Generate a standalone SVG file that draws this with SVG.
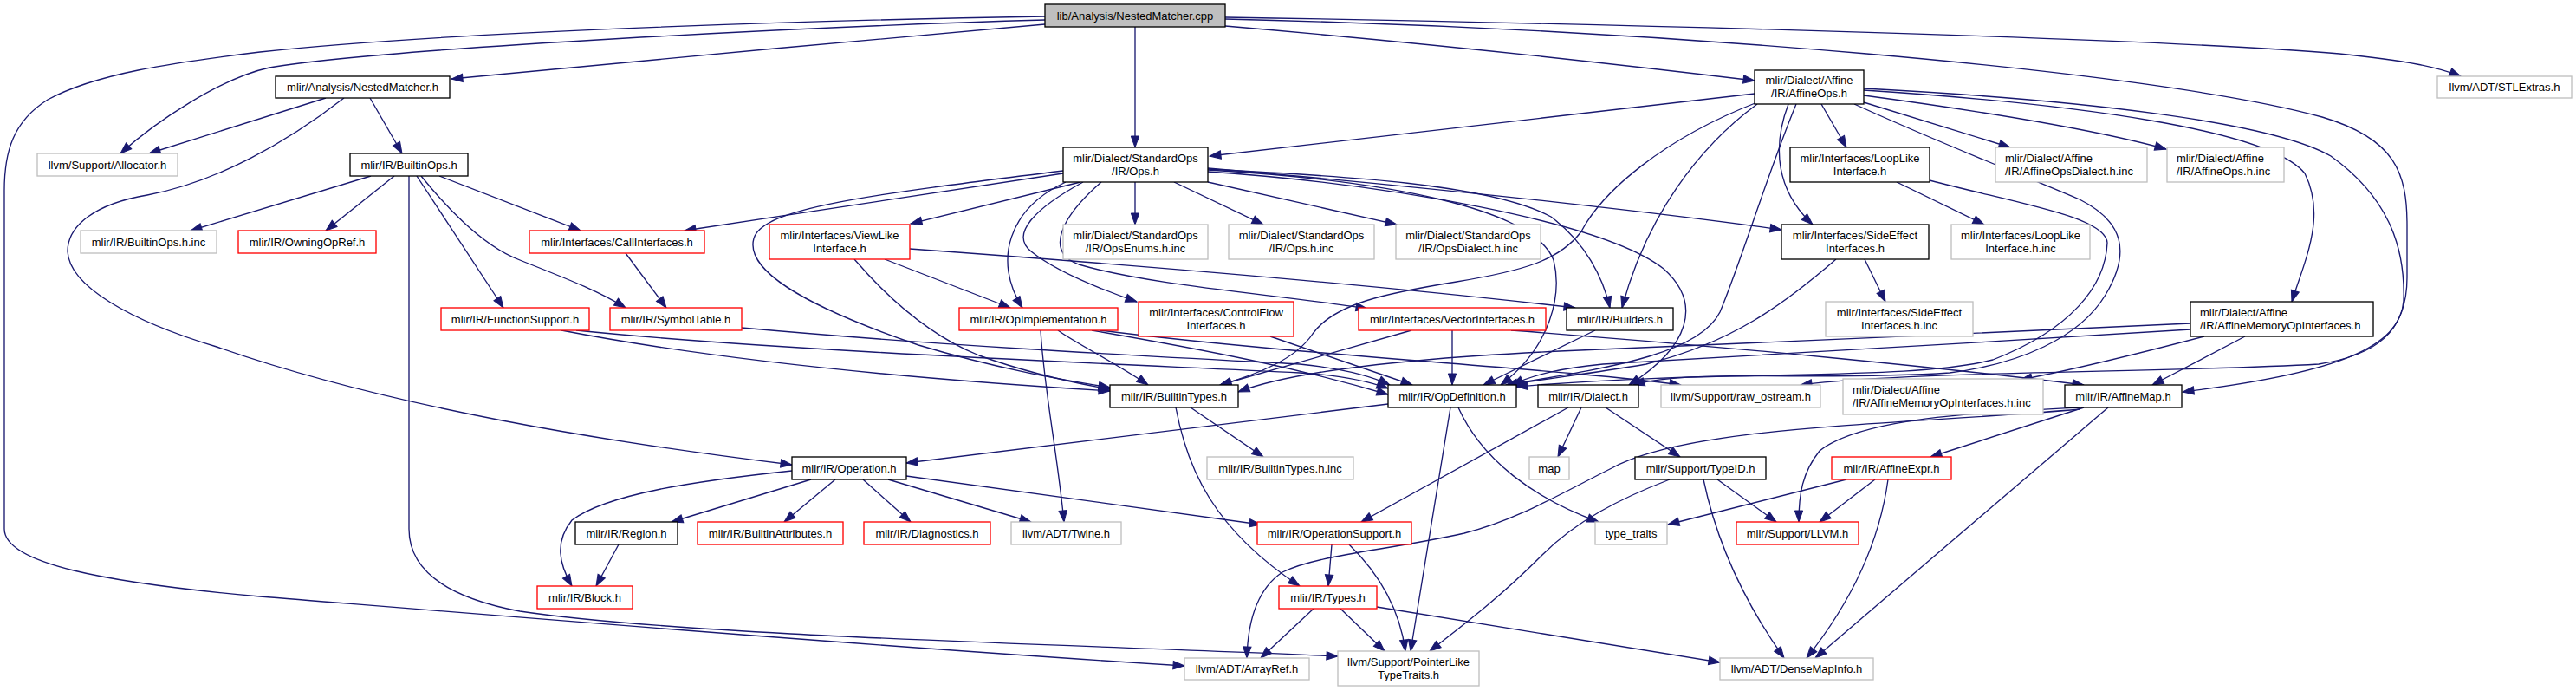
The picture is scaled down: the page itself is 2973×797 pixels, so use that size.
<svg xmlns="http://www.w3.org/2000/svg" width="2973" height="797" viewBox="0 0 2973 797">
<defs>
<marker id="a" markerUnits="userSpaceOnUse" markerWidth="15" markerHeight="11" refX="13" refY="5" orient="auto" overflow="visible">
<path d="M0,0.3 L13,5 L0,9.7 Z" fill="#191970" stroke="#191970" stroke-width="1"/>
</marker>
<style>
rect{stroke-width:1.33}
.k{fill:#fff;stroke:#000}
.g{fill:#fff;stroke:#bfbfbf}
.r{fill:#fff;stroke:#ff0000}
.s{fill:#bfbfbf;stroke:#000}
text{font-family:"Liberation Sans",Helvetica,Arial,sans-serif;font-size:13px;fill:#000;text-anchor:middle}
text.l{text-anchor:start}
#edges path{fill:none;stroke:#191970;stroke-width:1.33;marker-end:url(#a)}
</style>
</defs>
<rect width="2973" height="797" fill="#fff"/>
<g id="edges">
<path d="M1206,28 C1000,45 700,75 521,91"/>
<path d="M1206,23 C950,30 450,55 311,78 C255,90 180,140 139,177"/>
<path d="M1206,19 C900,24 500,38 300,60 C200,72 110,85 55,115 C15,140 5,175 5,220 L5,610 C5,650 120,672 300,688 C600,712 1000,745 1367,768"/>
<path d="M1310,31 L1310,170"/>
<path d="M1414,30 C1650,50 1900,78 2025,93"/>
<path d="M1414,20 C1900,28 2500,45 2700,62 C2780,70 2815,78 2840,88"/>
<path d="M1414,22 C1900,33 2480,80 2680,135 C2765,160 2778,200 2778,260 L2778,320 C2778,385 2740,410 2676,420 C2500,430 2200,428 2078,444"/>
<path d="M376,113 L172,177"/>
<path d="M427,113 L464,177"/>
<path d="M397,113 C330,165 250,210 170,225 C110,235 78,260 78,290 C80,330 150,370 250,400 C450,470 700,510 914,536"/>
<path d="M428,203 L220,266"/>
<path d="M455,203 L376,266"/>
<path d="M472,203 L472,610 C472,660 520,690 600,705 C800,735 1300,745 1544,757"/>
<path d="M481,203 L581,355"/>
<path d="M486,203 C520,245 560,285 600,300 C650,320 690,335 722,355"/>
<path d="M507,203 L670,266"/>
<path d="M722,292 L769,355"/>
<path d="M648,381 C850,420 1100,440 1281,451"/>
<path d="M665,381 C900,405 1300,420 1500,430 C1550,433 1580,440 1602,448"/>
<path d="M856,378 C1100,400 1350,412 1500,420 C1550,425 1585,435 1604,444"/>
<path d="M1227,200 L790,266"/>
<path d="M1227,197 C1000,225 880,240 870,275 C860,310 920,350 1060,398 C1150,425 1220,437 1281,447"/>
<path d="M1247,210 L1051,258"/>
<path d="M1230,210 C1165,240 1145,300 1180,355"/>
<path d="M1250,210 C1195,240 1165,270 1190,290 C1215,310 1260,330 1312,348"/>
<path d="M1271,210 C1225,250 1205,290 1245,305 C1330,330 1480,340 1578,356"/>
<path d="M1310,210 L1310,259"/>
<path d="M1355,210 L1458,259"/>
<path d="M1394,210 L1612,259"/>
<path d="M1394,195 C1550,203 1720,212 1790,250 C1830,280 1850,320 1858,355"/>
<path d="M1394,198 C1600,212 1850,255 1920,310 C1965,350 1950,400 1880,444"/>
<path d="M1394,194 C1700,220 1950,250 2056,265"/>
<path d="M1394,196 C1600,208 1770,240 1793,300 C1803,340 1790,400 1732,444"/>
<path d="M2025,108 L1396,180"/>
<path d="M2028,118 C1920,160 1850,220 1825,267 C1800,300 1760,312 1681,325 C1600,338 1540,350 1515,385 C1495,415 1450,432 1408,444"/>
<path d="M2028,120 C1960,170 1900,250 1872,355"/>
<path d="M2073,120 C2040,200 2010,300 1985,360 C1960,410 1850,425 1738,444"/>
<path d="M2064,120 C2045,170 2050,220 2092,259"/>
<path d="M2102,120 L2131,170"/>
<path d="M2140,120 C2250,170 2330,200 2400,230 C2450,255 2460,290 2430,340 C2400,390 2330,420 2250,430 C2100,440 1950,425 1885,444"/>
<path d="M2151,118 L2320,170"/>
<path d="M2151,110 C2300,130 2420,150 2500,172"/>
<path d="M2151,104 C2400,120 2620,150 2660,200 C2685,250 2660,300 2645,348"/>
<path d="M2151,102 C2400,115 2620,140 2690,180 C2760,230 2776,290 2774,347 C2770,400 2700,430 2519,452"/>
<path d="M1466,388 L1630,444"/>
<path d="M1221,381 C1240,395 1290,420 1325,444"/>
<path d="M1260,381 C1400,405 1500,425 1602,455"/>
<path d="M1201,381 C1205,450 1220,520 1228,602"/>
<path d="M1270,381 C1500,410 1800,425 1940,444"/>
<path d="M1629,381 L1408,444"/>
<path d="M1676,381 L1676,444"/>
<path d="M1744,381 C2000,400 2250,425 2405,444"/>
<path d="M1841,381 L1712,444"/>
<path d="M2119,299 C2060,350 2000,395 1900,420 C1830,432 1780,437 1742,444"/>
<path d="M2152,299 L2176,348"/>
<path d="M2189,210 L2290,259"/>
<path d="M2227,208 C2330,235 2430,250 2432,280 C2430,330 2390,380 2300,415 C2200,440 2000,425 1750,446"/>
<path d="M2544,388 C2460,410 2400,425 2332,438"/>
<path d="M2591,388 L2484,444"/>
<path d="M2528,373 C2300,385 2000,395 1800,405 C1650,412 1500,425 1429,452"/>
<path d="M2528,380 C2300,395 2000,410 1850,420 C1800,425 1770,432 1745,444"/>
<path d="M1357,470 C1370,540 1400,610 1500,676"/>
<path d="M1374,470 L1458,527"/>
<path d="M1602,466 C1400,490 1200,515 1046,534"/>
<path d="M1674,470 L1628,751"/>
<path d="M1683,470 C1710,530 1770,575 1845,602"/>
<path d="M1810,470 L1571,602"/>
<path d="M1825,470 L1798,527"/>
<path d="M1853,470 L1939,527"/>
<path d="M936,553 L775,602"/>
<path d="M964,553 L905,602"/>
<path d="M996,553 L1051,602"/>
<path d="M1025,553 L1190,602"/>
<path d="M1046,549 L1455,605"/>
<path d="M914,543 C800,555 700,570 660,600 C640,625 645,650 660,676"/>
<path d="M714,628 L688,676"/>
<path d="M1537,628 L1533,676"/>
<path d="M1557,628 C1590,660 1615,700 1622,751"/>
<path d="M1927,553 C1870,575 1820,600 1780,640 C1730,690 1690,720 1650,751"/>
<path d="M1982,553 L2050,602"/>
<path d="M1966,553 C1980,620 2010,690 2059,759"/>
<path d="M2131,553 L1925,605"/>
<path d="M2164,553 L2100,602"/>
<path d="M2179,553 C2170,620 2140,690 2085,759"/>
<path d="M2405,470 L2228,527"/>
<path d="M2400,470 C2300,475 2150,480 2100,520 C2080,545 2076,570 2076,602"/>
<path d="M2400,472 C2200,490 1950,490 1860,540 C1800,570 1750,600 1690,615 C1600,635 1520,640 1480,660 C1450,680 1440,720 1439,759"/>
<path d="M2433,470 L2095,759"/>
<path d="M1516,702 L1455,759"/>
<path d="M1547,702 L1598,751"/>
<path d="M1589,700 L1985,764"/>
<path d="M1050,287 C1300,305 1600,330 1818,355"/>
<path d="M986,299 C1030,350 1080,390 1130,410 C1180,428 1230,440 1281,449"/>
<path d="M1021,299 L1166,355"/>
</g>
<g id="n-cpp"><rect class="s" x="1206" y="5" width="208" height="26"/><text x="1310" y="22.5">lib/Analysis/NestedMatcher.cpp</text></g>
<g id="n-nmh"><rect class="k" x="318" y="88" width="201" height="25"/><text x="418.5" y="105">mlir/Analysis/NestedMatcher.h</text></g>
<g id="n-affineops"><rect class="k" x="2025" y="81" width="126" height="39"/><text x="2088" y="97">mlir/Dialect/Affine</text><text x="2088" y="112">/IR/AffineOps.h</text></g>
<g id="n-stlextras"><rect class="g" x="2813" y="88" width="155" height="25"/><text x="2890.5" y="105">llvm/ADT/STLExtras.h</text></g>
<g id="n-allocator"><rect class="g" x="43" y="177" width="162" height="26"/><text x="124" y="194.5">llvm/Support/Allocator.h</text></g>
<g id="n-builtinops"><rect class="k" x="404" y="177" width="136" height="26"/><text x="472" y="194.5">mlir/IR/BuiltinOps.h</text></g>
<g id="n-stdops"><rect class="k" x="1227" y="170" width="167" height="40"/><text x="1310.5" y="186.5">mlir/Dialect/StandardOps</text><text x="1310.5" y="201.5">/IR/Ops.h</text></g>
<g id="n-looplike"><rect class="k" x="2066" y="170" width="161" height="40"/><text x="2146.5" y="186.5">mlir/Interfaces/LoopLike</text><text x="2146.5" y="201.5">Interface.h</text></g>
<g id="n-affdialectinc"><rect class="g" x="2303" y="170" width="175" height="40"/><text class="l" x="2314" y="186.5">mlir/Dialect/Affine</text><text class="l" x="2314" y="201.5">/IR/AffineOpsDialect.h.inc</text></g>
<g id="n-affopsinc"><rect class="g" x="2501" y="170" width="135" height="40"/><text class="l" x="2512" y="186.5">mlir/Dialect/Affine</text><text class="l" x="2512" y="201.5">/IR/AffineOps.h.inc</text></g>
<g id="n-builtinopsinc"><rect class="g" x="93" y="266" width="157" height="26"/><text x="171.5" y="283.5">mlir/IR/BuiltinOps.h.inc</text></g>
<g id="n-owning"><rect class="r" x="275" y="266" width="159" height="26"/><text x="354.5" y="283.5">mlir/IR/OwningOpRef.h</text></g>
<g id="n-call"><rect class="r" x="611" y="266" width="202" height="26"/><text x="712" y="283.5">mlir/Interfaces/CallInterfaces.h</text></g>
<g id="n-viewlike"><rect class="r" x="888" y="259" width="162" height="40"/><text x="969" y="275.5">mlir/Interfaces/ViewLike</text><text x="969" y="290.5">Interface.h</text></g>
<g id="n-opsenums"><rect class="g" x="1227" y="259" width="167" height="40"/><text x="1310.5" y="275.5">mlir/Dialect/StandardOps</text><text x="1310.5" y="290.5">/IR/OpsEnums.h.inc</text></g>
<g id="n-opsinc"><rect class="g" x="1418" y="259" width="168" height="40"/><text x="1502" y="275.5">mlir/Dialect/StandardOps</text><text x="1502" y="290.5">/IR/Ops.h.inc</text></g>
<g id="n-opsdialect"><rect class="g" x="1611" y="259" width="167" height="40"/><text x="1694.5" y="275.5">mlir/Dialect/StandardOps</text><text x="1694.5" y="290.5">/IR/OpsDialect.h.inc</text></g>
<g id="n-sideeffect"><rect class="k" x="2056" y="259" width="170" height="40"/><text x="2141" y="275.5">mlir/Interfaces/SideEffect</text><text x="2141" y="290.5">Interfaces.h</text></g>
<g id="n-looplikeinc"><rect class="g" x="2252" y="259" width="160" height="40"/><text x="2332" y="275.5">mlir/Interfaces/LoopLike</text><text x="2332" y="290.5">Interface.h.inc</text></g>
<g id="n-funcsup"><rect class="r" x="509" y="355" width="171" height="26"/><text x="594.5" y="372.5">mlir/IR/FunctionSupport.h</text></g>
<g id="n-symtab"><rect class="r" x="704" y="355" width="152" height="26"/><text x="780" y="372.5">mlir/IR/SymbolTable.h</text></g>
<g id="n-opimpl"><rect class="r" x="1107" y="355" width="183" height="26"/><text x="1198.5" y="372.5">mlir/IR/OpImplementation.h</text></g>
<g id="n-ctrlflow"><rect class="r" x="1314" y="348" width="179" height="40"/><text x="1403.5" y="364.5">mlir/Interfaces/ControlFlow</text><text x="1403.5" y="379.5">Interfaces.h</text></g>
<g id="n-vector"><rect class="r" x="1568" y="355" width="216" height="26"/><text x="1676" y="372.5">mlir/Interfaces/VectorInterfaces.h</text></g>
<g id="n-builders"><rect class="k" x="1808" y="355" width="123" height="26"/><text x="1869.5" y="372.5">mlir/IR/Builders.h</text></g>
<g id="n-sideeffectinc"><rect class="g" x="2107" y="348" width="170" height="40"/><text x="2192" y="364.5">mlir/Interfaces/SideEffect</text><text x="2192" y="379.5">Interfaces.h.inc</text></g>
<g id="n-affmemop"><rect class="k" x="2528" y="348" width="211" height="40"/><text class="l" x="2539" y="364.5">mlir/Dialect/Affine</text><text class="l" x="2539" y="379.5">/IR/AffineMemoryOpInterfaces.h</text></g>
<g id="n-builtintypes"><rect class="k" x="1281" y="444" width="148" height="26"/><text x="1355" y="461.5">mlir/IR/BuiltinTypes.h</text></g>
<g id="n-opdef"><rect class="k" x="1602" y="444" width="148" height="26"/><text x="1676" y="461.5">mlir/IR/OpDefinition.h</text></g>
<g id="n-dialect"><rect class="k" x="1775" y="444" width="116" height="26"/><text x="1833" y="461.5">mlir/IR/Dialect.h</text></g>
<g id="n-rawos"><rect class="g" x="1917" y="444" width="184" height="26"/><text x="2009" y="461.5">llvm/Support/raw_ostream.h</text></g>
<g id="n-affmemopinc"><rect class="g" x="2127" y="437" width="231" height="41"/><text class="l" x="2138" y="454">mlir/Dialect/Affine</text><text class="l" x="2138" y="469">/IR/AffineMemoryOpInterfaces.h.inc</text></g>
<g id="n-affinemap"><rect class="k" x="2383" y="444" width="135" height="26"/><text x="2450.5" y="461.5">mlir/IR/AffineMap.h</text></g>
<g id="n-operation"><rect class="k" x="914" y="527" width="132" height="26"/><text x="980" y="544.5">mlir/IR/Operation.h</text></g>
<g id="n-builtintypesinc"><rect class="g" x="1393" y="527" width="169" height="26"/><text x="1477.5" y="544.5">mlir/IR/BuiltinTypes.h.inc</text></g>
<g id="n-map"><rect class="g" x="1765" y="527" width="46" height="26"/><text x="1788" y="544.5">map</text></g>
<g id="n-typeid"><rect class="k" x="1887" y="527" width="151" height="26"/><text x="1962.5" y="544.5">mlir/Support/TypeID.h</text></g>
<g id="n-affineexpr"><rect class="r" x="2114" y="527" width="138" height="26"/><text x="2183" y="544.5">mlir/IR/AffineExpr.h</text></g>
<g id="n-region"><rect class="k" x="664" y="602" width="118" height="26"/><text x="723" y="619.5">mlir/IR/Region.h</text></g>
<g id="n-builtinattr"><rect class="r" x="805" y="602" width="168" height="26"/><text x="889" y="619.5">mlir/IR/BuiltinAttributes.h</text></g>
<g id="n-diag"><rect class="r" x="997" y="602" width="146" height="26"/><text x="1070" y="619.5">mlir/IR/Diagnostics.h</text></g>
<g id="n-twine"><rect class="g" x="1167" y="602" width="127" height="26"/><text x="1230.5" y="619.5">llvm/ADT/Twine.h</text></g>
<g id="n-opsupport"><rect class="r" x="1451" y="602" width="178" height="26"/><text x="1540" y="619.5">mlir/IR/OperationSupport.h</text></g>
<g id="n-typetraits"><rect class="g" x="1841" y="602" width="83" height="26"/><text x="1882.5" y="619.5">type_traits</text></g>
<g id="n-llvm"><rect class="r" x="2004" y="602" width="141" height="26"/><text x="2074.5" y="619.5">mlir/Support/LLVM.h</text></g>
<g id="n-block"><rect class="r" x="620" y="676" width="110" height="26"/><text x="675" y="693.5">mlir/IR/Block.h</text></g>
<g id="n-types"><rect class="r" x="1476" y="676" width="113" height="26"/><text x="1532.5" y="693.5">mlir/IR/Types.h</text></g>
<g id="n-arrayref"><rect class="g" x="1367" y="759" width="144" height="25"/><text x="1439" y="775.5">llvm/ADT/ArrayRef.h</text></g>
<g id="n-ptrlike"><rect class="g" x="1544" y="751" width="163" height="40"/><text x="1625.5" y="767.5">llvm/Support/PointerLike</text><text x="1625.5" y="782.5">TypeTraits.h</text></g>
<g id="n-densemap"><rect class="g" x="1985" y="759" width="177" height="25"/><text x="2073.5" y="775.5">llvm/ADT/DenseMapInfo.h</text></g>
</svg>
